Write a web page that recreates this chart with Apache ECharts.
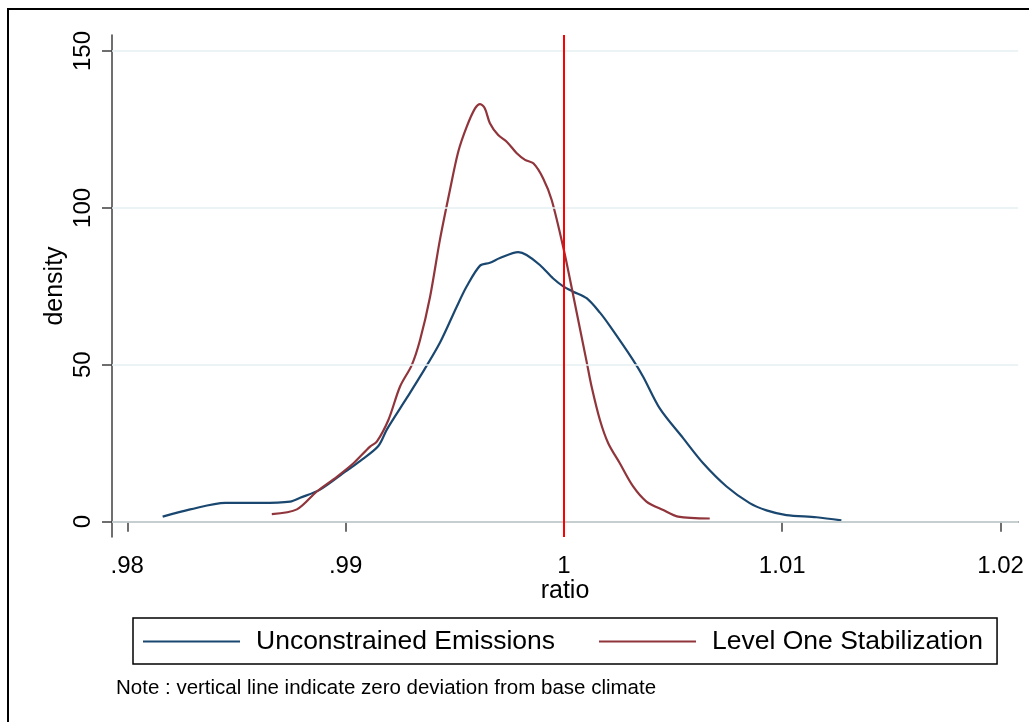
<!DOCTYPE html>
<html>
<head>
<meta charset="utf-8">
<script src="https://cdn.jsdelivr.net/npm/echarts@6/dist/echarts.min.js"></script>
<style>
  html, body { margin: 0; padding: 0; background: #ffffff; }
  #chart { width: 1029px; height: 722px; }
</style>
</head>
<body>
<div id="chart"></div>
<script>
// Axis ticks
const xTicks = [0.98, 0.99, 1.00, 1.01, 1.02];
const yTicks = [0, 50, 100, 150];

// Kernel density: unconstrained emissions
const unconstrainedRatio = [
  0.98162, 0.98288, 0.98449, 0.98609, 0.98746, 0.98792, 0.98883, 0.99000, 0.99066, 0.99149,
  0.99190, 0.99281, 0.99341, 0.99432, 0.99509, 0.99555, 0.99616, 0.99661, 0.99707, 0.99791,
  0.99829, 0.99890, 0.99951, 0.99997, 1.00043, 1.00104, 1.00165, 1.00211, 1.00317, 1.00363,
  1.00439, 1.00546, 1.00638, 1.00745, 1.00851, 1.00928, 1.01019, 1.01157, 1.01271
];
const unconstrainedDensity = [
  1.6, 3.9, 6.0, 6.0, 6.4, 7.6, 10.2, 16.0, 19.3, 24.0,
  29.5, 39.5, 46.2, 57.0, 68.5, 75.0, 81.6, 82.5, 84.0, 85.9,
  85.0, 81.8, 77.5, 75.0, 73.3, 71.2, 66.6, 62.3, 51.5, 46.2,
  36.1, 26.6, 18.6, 11.2, 5.9, 3.6, 2.1, 1.4, 0.4
];

// Kernel density: level one stabilization
const levelOneRatio = [
  0.98662, 0.98777, 0.98868, 0.98960, 0.99036, 0.99112, 0.99143, 0.99196, 0.99249, 0.99303,
  0.99341, 0.99387, 0.99432, 0.99478, 0.99516, 0.99555, 0.99593, 0.99616, 0.99638, 0.99661,
  0.99699, 0.99738, 0.99784, 0.99822, 0.99860, 0.99905, 0.99944, 1.00000, 1.00043, 1.00104,
  1.00127, 1.00165, 1.00203, 1.00256, 1.00317, 1.00378, 1.00455, 1.00523, 1.00668
];
const levelOneDensity = [
  2.4, 3.9, 9.6, 14.3, 18.6, 23.9, 25.5, 32.4, 43.0, 49.9,
  57.9, 71.7, 89.8, 105.7, 117.9, 125.9, 131.7, 133.1, 131.7, 127.0,
  123.2, 121.1, 117.4, 115.3, 114.2, 109.4, 102.5, 86.5, 72.0, 51.0,
  43.0, 32.4, 25.0, 18.6, 11.2, 6.4, 3.7, 1.6, 1.0
];

// Zero deviation from base climate
const baseRatio = 1;

const FONT = 'Liberation Sans, Arial, Helvetica, sans-serif';
const AXIS_COLOR = '#3f3f3f';

function pairs(xs, ys) { return xs.map((x, i) => [x, ys[i]]); }
function tickText(v) {
  const s = String(+v.toFixed(2));
  return s.startsWith('0.') ? s.slice(1) : s;
}

const chart = echarts.init(document.getElementById('chart'), null, { renderer: 'canvas' });

chart.setOption({
  animation: false,
  backgroundColor: '#ffffff',
  textStyle: { fontFamily: FONT },
  grid: { left: 112, right: 11, top: 35, bottom: 185, containLabel: false },
  xAxis: {
    type: 'value',
    min: 0.9793,
    max: 1.0208,
    name: 'ratio',
    nameLocation: 'middle',
    nameGap: 42,
    nameMoveOverlap: false,
    nameTextStyle: { fontSize: 25, color: '#000', fontFamily: FONT },
    axisLine: { show: true, lineStyle: { color: AXIS_COLOR, width: 1.5 } },
    axisTick: { show: true, length: 10, customValues: xTicks, lineStyle: { color: AXIS_COLOR, width: 1.5 } },
    axisLabel: { customValues: xTicks, formatter: tickText, fontSize: 24, color: '#000', margin: 17, fontFamily: FONT },
    splitLine: { show: false }
  },
  yAxis: {
    type: 'value',
    min: -4.9,
    max: 155.1,
    name: 'density',
    nameLocation: 'middle',
    nameGap: 44,
    nameMoveOverlap: false,
    nameTextStyle: { fontSize: 25, color: '#000', fontFamily: FONT },
    axisLine: { show: true, lineStyle: { color: AXIS_COLOR, width: 1.5 } },
    axisTick: { show: true, length: 10, customValues: yTicks, lineStyle: { color: AXIS_COLOR, width: 1.5 } },
    axisLabel: { customValues: yTicks, rotate: 90, fontSize: 24, color: '#000', margin: 17, fontFamily: FONT },
    splitLine: { show: false }
  },
  legend: {
    data: ['Unconstrained Emissions', 'Level One Stabilization'],
    left: 133,
    top: 618,
    orient: 'horizontal',
    selectedMode: false,
    icon: 'rect',
    itemWidth: 97,
    itemHeight: 2,
    itemGap: 44,
    padding: [9, 14, 8, 10],
    borderColor: '#000',
    borderWidth: 1.5,
    borderRadius: 0,
    textStyle: { fontSize: 26.5, lineHeight: 29, color: '#000', fontFamily: FONT, padding: [0, 0, 0, 11] }
  },
  graphic: [
    {
      type: 'rect',
      silent: true,
      shape: { x: 8, y: 9, width: 1040, height: 740 },
      style: { fill: 'none', stroke: '#000', lineWidth: 2 }
    },
    {
      type: 'text',
      left: 116,
      top: 678,
      silent: true,
      style: {
        text: 'Note : vertical line indicate zero deviation from base climate',
        font: '20.5px ' + FONT,
        fill: '#000'
      }
    }
  ],
  series: [
    {
      name: 'gridlines',
      type: 'line',
      data: [],
      z: 1,
      silent: true,
      markLine: {
        silent: true,
        symbol: ['none', 'none'],
        label: { show: false },
        lineStyle: { color: '#e6eff1', width: 1.5, type: 'solid' },
        data: yTicks.map(v => ({ yAxis: v }))
      }
    },
    {
      name: 'Unconstrained Emissions',
      type: 'line',
      data: pairs(unconstrainedRatio, unconstrainedDensity),
      showSymbol: false,
      symbol: 'none',
      smooth: 0.3,
      z: 3,
      color: '#1a476f',
      lineStyle: { color: '#1a476f', width: 2.2 }
    },
    {
      name: 'Level One Stabilization',
      type: 'line',
      data: pairs(levelOneRatio, levelOneDensity),
      showSymbol: false,
      symbol: 'none',
      smooth: 0.3,
      z: 3,
      color: '#90353b',
      lineStyle: { color: '#90353b', width: 2.2 },
      markLine: {
        silent: true,
        symbol: ['none', 'none'],
        label: { show: false },
        lineStyle: { color: '#ff0000', width: 2, type: 'solid' },
        data: [{ xAxis: baseRatio }]
      }
    }
  ]
});
</script>
</body>
</html>
